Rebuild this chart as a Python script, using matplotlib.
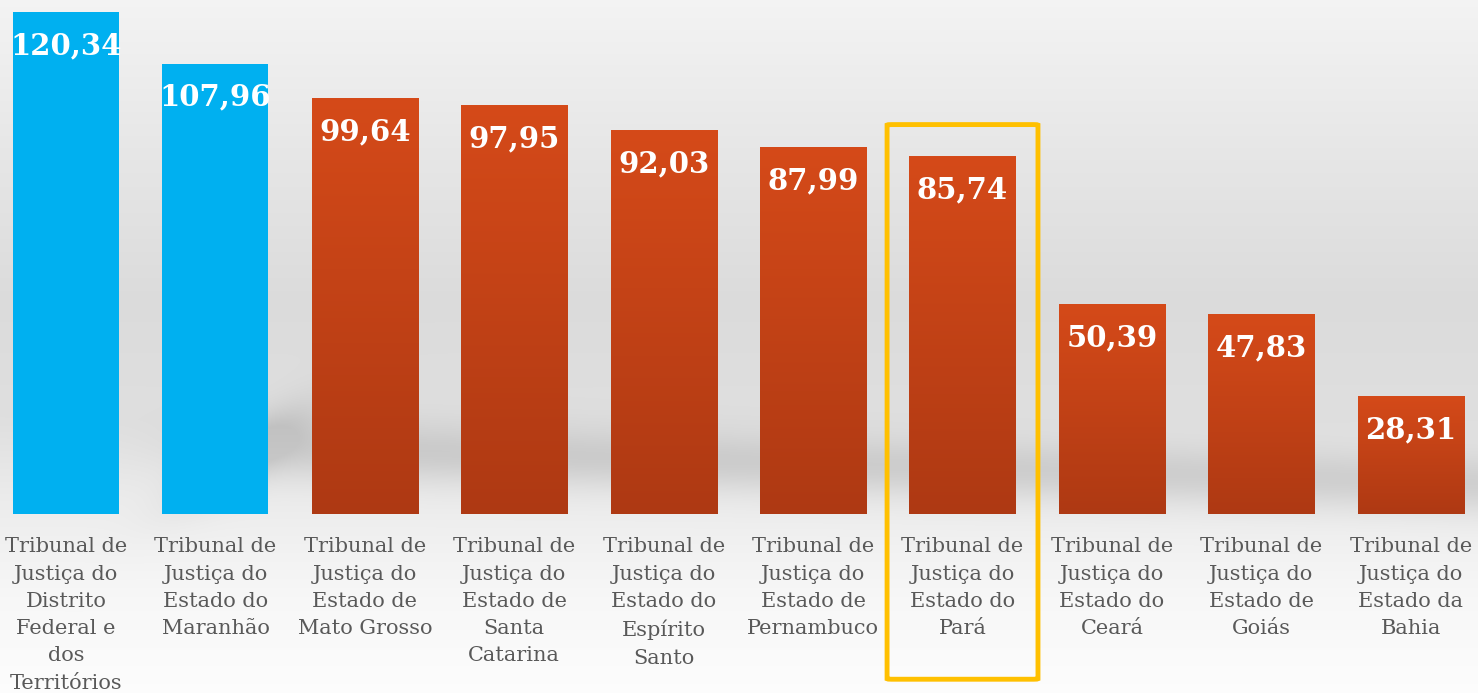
import numpy as np
import matplotlib.pyplot as plt
from matplotlib.patches import FancyBboxPatch
from matplotlib.colors import LinearSegmentedColormap

# dados
tribunais = [
    "Tribunal de\nJustiça do\nDistrito\nFederal e\ndos\nTerritórios",
    "Tribunal de\nJustiça do\nEstado do\nMaranhão",
    "Tribunal de\nJustiça do\nEstado de\nMato Grosso",
    "Tribunal de\nJustiça do\nEstado de\nSanta\nCatarina",
    "Tribunal de\nJustiça do\nEstado do\nEspírito\nSanto",
    "Tribunal de\nJustiça do\nEstado de\nPernambuco",
    "Tribunal de\nJustiça do\nEstado do\nPará",
    "Tribunal de\nJustiça do\nEstado do\nCeará",
    "Tribunal de\nJustiça do\nEstado de\nGoiás",
    "Tribunal de\nJustiça do\nEstado da\nBahia",
]
valores = [120.34, 107.96, 99.64, 97.95, 92.03, 87.99, 85.74, 50.39, 47.83, 28.31]
destaque_azul = [0, 1]
destaque_caixa = 6

W, H = 1478, 693
fig = plt.figure(figsize=(W / 100, H / 100), dpi=100)
ax = fig.add_axes([0, 0, 1, 1])

x0, x1 = -0.442, 9.45
y0, y1 = -42.9, 123.2
ax.set_xlim(x0, x1)
ax.set_ylim(y0, y1)
ax.axis("off")

# fundo em degradê com sombra
yy = np.linspace(0, 1, H)[:, None]
xx = np.linspace(0, 1, W)[None, :]
py = np.array([0, 150, 300, 420, 500, 600, 693]) / H
pv = np.array([0.955, 0.905, 0.86, 0.875, 0.925, 0.97, 0.99])
bg = np.interp(yy, py, pv) * np.ones_like(xx)
xp = xx * W
yp = yy * H
centro = 450 + 0.03 * (xp - 300)
rampa = 1 / (1 + np.exp(-(xp - 230) / 40))
banda = np.exp(-((yp - centro) / 30) ** 2) * rampa
cunha = np.exp(-((yp - (500 - 0.6 * (xp - 170))) / 30) ** 2)
cunha = cunha * np.exp(-((xp - 250) / 70) ** 2)
sombra = np.clip(banda * 0.10 + cunha * 0.10, 0, 0.12)
bg = bg - sombra
ax.imshow(np.dstack([bg, bg, bg]), extent=[x0, x1, y0, y1], aspect="auto",
          zorder=0, interpolation="bilinear")

cmap_lar = LinearSegmentedColormap.from_list("lar", ["#AE3913", "#D54A19"])
grad = np.linspace(0, 1, 256)[:, None]

x = np.arange(len(valores))
barras = ax.bar(x, valores, width=0.71, color="#00B0F0", zorder=2)
for i, b in enumerate(barras):
    if i in destaque_azul:
        continue
    b.set_facecolor("none")
    im = ax.imshow(grad, cmap=cmap_lar, extent=[b.get_x(), b.get_x() + b.get_width(), 0, valores[i]],
                   aspect="auto", origin="lower", zorder=2)
    im.set_clip_path(b)

for i, v in enumerate(valores):
    ax.text(i, v - 4.6, f"{v:.2f}".replace(".", ","), ha="center", va="top",
            color="white", fontsize=21, fontweight="bold", family="DejaVu Serif", zorder=3)
    ax.text(i, -5.6, tribunais[i], ha="center", va="top", color="#595959",
            fontsize=15, family="DejaVu Serif", linespacing=1.55, zorder=3)

caixa = FancyBboxPatch((destaque_caixa - 0.505, -39.6), 1.01, valores[destaque_caixa] + 7.6 + 39.6,
                       boxstyle="round,pad=0,rounding_size=0.03", fill=False,
                       edgecolor="#FFC000", linewidth=3.5, zorder=4, mutation_aspect=4)
ax.add_patch(caixa)

plt.savefig("out.png", dpi=100)
